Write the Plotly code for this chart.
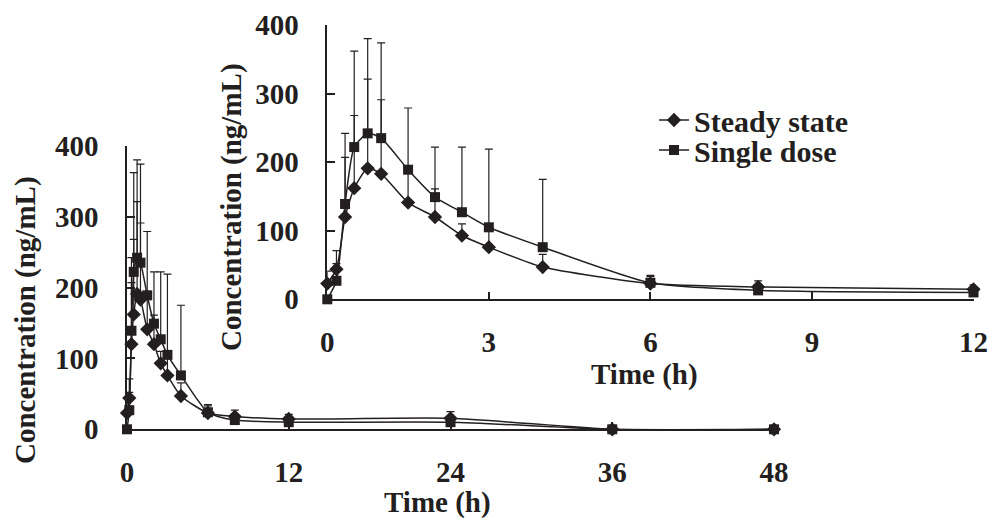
import plotly.graph_objects as go

# ---- data ----
time_h = [0, 0.17, 0.33, 0.5, 0.75, 1, 1.5, 2, 2.5, 3, 4, 6, 8, 12, 24, 36, 48]
steady_state = [23, 44, 120, 162, 191, 183, 141, 120, 93, 76, 47, 23, 18, 14.5, 15.5, 0, 0]
steady_sd = [18, 27, 87, 106, 130, 108, 48, 41, 17, 25, 18.5, 10, 9, 6.5, 9.5, 4, 3]
single_dose = [0, 27, 139, 222, 242, 235, 189, 149, 127, 105, 76, 24, 13, 10, 10, 0, 0]
single_sd = [0, 25, 103, 140, 138, 139, 90, 73, 95, 114, 99, 11, 8, 6, 8, 3, 2]

series_names = ["Steady state", "Single dose"]
main_xticks = [0, 12, 24, 36, 48]
inset_xticks = [0, 3, 6, 9, 12]
yticks = [0, 100, 200, 300, 400]
y_title = "Concentration (ng/mL)"
x_title = "Time (h)"

INK = "#231f20"
FONT = dict(family="Liberation Serif", size=29, color=INK, weight="bold")
LEGEND_FONT = dict(family="Liberation Serif", size=30, color=INK, weight="bold")
W, H = 989, 518

def px(x):
    return x / W

def py(y):
    return (H - y) / H

fig = go.Figure()

def add_series(xs, ys, err, symbol, size, name, xa, ya, showlegend, legend):
    fig.add_trace(go.Scatter(
        x=xs, y=ys, name=name, mode="lines+markers",
        xaxis=xa, yaxis=ya, showlegend=showlegend, legend=legend,
        line=dict(color=INK, width=1.5, shape="spline", smoothing=0.6),
        marker=dict(symbol=symbol, size=size, color=INK),
        error_y=dict(type="data", symmetric=False, array=err,
                     arrayminus=[0] * len(err), color=INK,
                     thickness=1.2, width=4),
        cliponaxis=False,
    ))

# main (0-48 h)
add_series(time_h, steady_state, steady_sd, "diamond", 11, series_names[0], "x", "y", False, "legend")
add_series(time_h, single_dose, single_sd, "square", 10, series_names[1], "x", "y", False, "legend")

# inset (0-12 h)
n12 = sum(1 for t in time_h if t <= 12)
add_series(time_h[:n12], steady_state[:n12], steady_sd[:n12], "diamond", 11,
           series_names[0], "x2", "y2", True, "legend")
add_series(time_h[:n12], single_dose[:n12], single_sd[:n12], "square", 10,
           series_names[1], "x2", "y2", True, "legend2")

axis_common = dict(
    showline=True, linecolor=INK, linewidth=1.5,
    ticks="inside", ticklen=8, tickwidth=1.5, tickcolor=INK,
    showgrid=False, zeroline=False, tickfont=FONT, automargin=False,
)

def title_ann(text, x, y, angle=0):
    return dict(text=text, x=px(x), y=py(y), xref="paper", yref="paper",
                xanchor="center", yanchor="middle", textangle=angle,
                showarrow=False, font=FONT)

fig.update_layout(
    width=W, height=H,
    margin=dict(l=0, r=0, t=0, b=0, pad=0, autoexpand=False),
    paper_bgcolor="white", plot_bgcolor="rgba(0,0,0,0)",
    xaxis=dict(domain=[px(127), px(774)], range=[0, 48], tickvals=main_xticks,
               anchor="y", ticklabelstandoff=16, **axis_common),
    yaxis=dict(domain=[py(429.3), py(145.7)], range=[0, 400], tickvals=yticks,
               anchor="x", ticklabelstandoff=21, **axis_common),
    xaxis2=dict(domain=[px(327.3), px(973.5)], range=[0, 12], tickvals=inset_xticks,
                anchor="y2", ticklabelstandoff=16, **axis_common),
    yaxis2=dict(domain=[py(299.3), py(25)], range=[0, 400], tickvals=yticks,
                anchor="x2", ticklabelstandoff=21, **axis_common),
    legend=dict(x=px(654), y=py(94), xanchor="left", yanchor="top",
                font=LEGEND_FONT, bgcolor="rgba(0,0,0,0)", itemwidth=30),
    legend2=dict(x=px(654), y=py(124), xanchor="left", yanchor="top",
                 font=LEGEND_FONT, bgcolor="rgba(0,0,0,0)", itemwidth=30),
    annotations=[
        title_ann(y_title, 25, 320, -90),
        title_ann(y_title, 231, 207, -90),
        title_ann(x_title, 437, 502),
        title_ann(x_title, 644.5, 374),
    ],
)

fig.write_html(
    "out.html",
    config={"displayModeBar": False},
    post_script="document.body.style.margin='0';document.body.style.overflow='hidden';",
)
